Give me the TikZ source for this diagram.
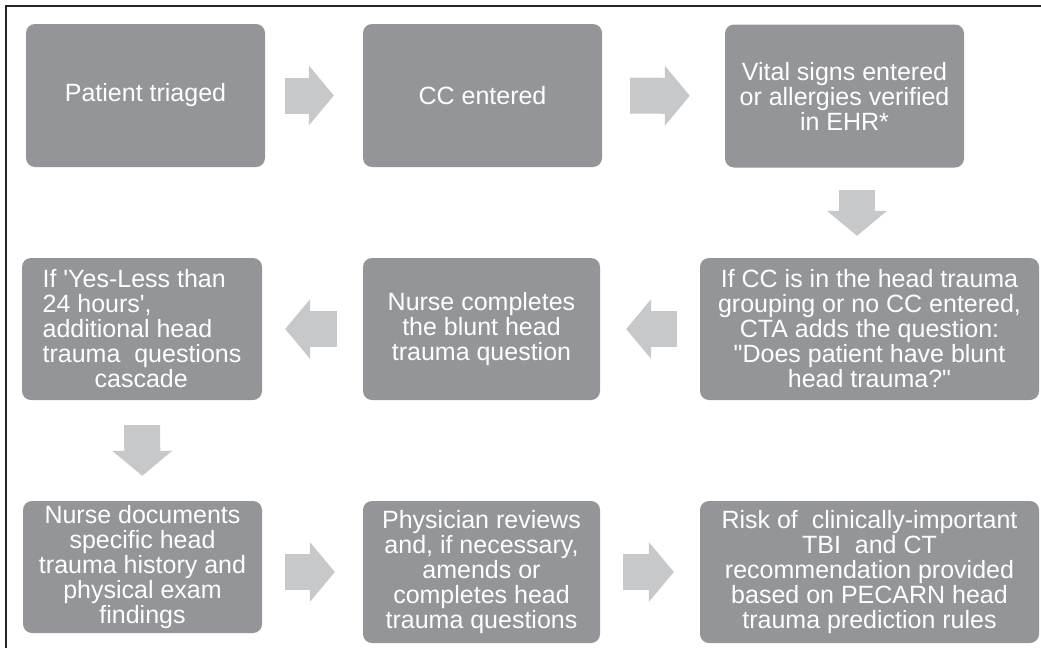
\documentclass[tikz,border=0pt]{standalone}
\usepackage{fontspec}
\setmainfont{Liberation Sans}[Ligatures=TeXOff]
\usetikzlibrary{arrows.meta,calc}
\definecolor{boxgray}{RGB}{147,149,152}
\definecolor{arrowgray}{RGB}{199,200,202}
\begin{document}
\begin{tikzpicture}[x=1pt, y=-1pt,
  stepbox/.style={fill=boxgray, rounded corners=9pt, text=white, align=center,
    inner sep=0pt, minimum width=239pt, minimum height=143pt,
    font=\fontsize{25}{25}\selectfont},
  blockarrow/.style={draw=arrowgray, line width=36pt,
    -{Triangle[width=60pt,length=25pt,line width=0pt]}, shorten <=#1, shorten >=#1},
  blockarrow/.default=25pt]
  \useasboundingbox (0,0) rectangle (1041,648);
  % Frame
  \draw[line width=1.5pt, black!85] (6,648) -- (6,6) -- (1041,6);
  % Top row
  \node[stepbox] (triage) at (145.5,95.5) {Patient triaged};
  \node[stepbox] (cc) at (482.5,95.5) {CC entered};
  \node[stepbox] (vitals) at (844.5,96) {Vital signs entered\\or allergies verified\\in EHR*};
  % Middle row
  \node[stepbox, minimum width=339pt, minimum height=142pt] (cta) at (869.5,329)
    {If CC is in the head trauma\\grouping or no CC entered,\\CTA adds the question:\\"Does patient have blunt\\head trauma?"};
  \node[stepbox, minimum width=237pt, minimum height=142pt] (nurseq) at (481.5,329)
    {Nurse completes\\the blunt head\\trauma question};
  \node[stepbox, minimum width=240pt, minimum height=142pt, align=left] (cascade) at (142,329)
    {If 'Yes-Less than\\24 hours',\\additional head\\trauma\ \ questions\\\hspace*{52pt}cascade};
  % Bottom row
  \node[stepbox, minimum height=132pt] (documents) at (142.5,567)
    {Nurse documents\\specific head\\trauma history and\\physical exam\\findings};
  \node[stepbox, minimum width=237pt, minimum height=142pt] (physician) at (481.5,572)
    {Physician reviews\\and, if necessary,\\amends or\\completes head\\trauma questions};
  \node[stepbox, minimum width=339pt, minimum height=142pt] (risk) at (869.5,572)
    {Risk of\ \ clinically-important\\TBI\ \ and CT\\recommendation provided\\based on PECARN head\\trauma prediction rules};
  % Arrows
  \draw[blockarrow, shorten <=20pt, shorten >=29pt] (triage) -- (cc);
  \draw[blockarrow, shorten <=28pt, shorten >=35pt] (cc) -- (vitals);
  \coordinate (d1) at ($(vitals.south)!.5!(cta.north)$);
  \draw[blockarrow=22pt] (d1 |- vitals.south) -- (d1 |- cta.north);
  \draw[blockarrow, shorten <=23pt, shorten >=26pt] (cta) -- (nurseq);
  \draw[blockarrow, shorten <=26pt, shorten >=23pt] (nurseq) -- (cascade);
  \draw[blockarrow] (cascade) -- (documents);
  \draw[blockarrow, shorten <=23pt, shorten >=28pt] (documents.east |- physician) -- (physician);
  \draw[blockarrow, shorten <=23pt, shorten >=26pt] (physician) -- (risk);
\end{tikzpicture}
\end{document}
